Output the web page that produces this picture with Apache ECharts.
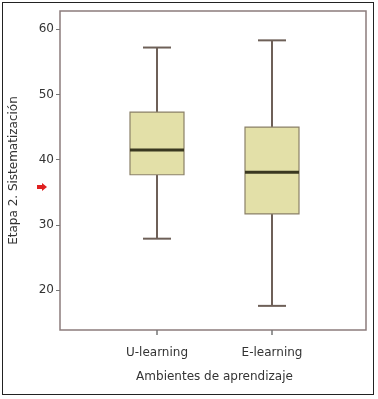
<!DOCTYPE html>
<html>
<head>
<meta charset="utf-8">
<script src="https://cdn.jsdelivr.net/npm/echarts@6/dist/echarts.min.js"></script>
<style>
html,body{margin:0;padding:0;background:#fff;}
#wrap{position:absolute;left:2px;top:2px;width:372px;height:393px;border:1.5px solid #222;box-sizing:border-box;}
#c{position:absolute;left:0;top:0;width:378px;height:399px;}
</style>
</head>
<body>
<div id="wrap"></div>
<div id="c"></div>
<script>
// Data
const categories = ['U-learning', 'E-learning'];
// [lower whisker, Q1, median, Q3, upper whisker]
const uLearning = [27.9, 37.7, 41.5, 47.3, 57.2];
const eLearning = [17.6, 31.7, 38.1, 45.0, 58.3];
const yTicks = [20, 30, 40, 50, 60];
const yName = 'Etapa 2. Sistematización';
const xName = 'Ambientes de aprendizaje';

const chart = echarts.init(document.getElementById('c'), null, {renderer: 'canvas'});
const font = 'DejaVu Sans';
const yMin = 13.9, yMax = 62.8;
const frameColor = '#8c7c7c';
const boxHalf = 27, capHalf = 14;
const whiskerColor = '#6e6058';

const boxData = [uLearning, eLearning].map((d, i) => [i].concat(d));

chart.setOption({
  animation: false,
  backgroundColor: 'transparent',
  grid: [
    {left: 60, right: 12, top: 11, bottom: 69, show: true, borderColor: frameColor, borderWidth: 1.5, backgroundColor: '#fff'},
    {left: 99.5, right: 48.5, top: 11, bottom: 69}
  ],
  xAxis: [
    {gridIndex: 0, type: 'value', min: 0, max: 1, show: false},
    {gridIndex: 1, type: 'category', data: categories,
     name: xName, nameLocation: 'middle', nameGap: 41,
     nameTextStyle: {fontFamily: font, fontSize: 12, color: '#333'},
     axisLine: {show: false},
     axisTick: {show: true, alignWithLabel: true, length: 5, lineStyle: {color: '#777', width: 1.5}},
     axisLabel: {fontFamily: font, fontSize: 12, color: '#333', margin: 17}
    }
  ],
  yAxis: [
    {gridIndex: 0, type: 'value', min: yMin, max: yMax,
     name: yName, nameLocation: 'middle', nameGap: 40,
     nameTextStyle: {fontFamily: font, fontSize: 12, color: '#333'},
     splitLine: {show: false},
     axisLine: {show: false},
     axisTick: {show: true, length: 4, customValues: yTicks, lineStyle: {color: '#777'}},
     axisLabel: {fontFamily: font, fontSize: 12, color: '#333', margin: 6, customValues: yTicks}
    },
    {gridIndex: 1, type: 'value', min: yMin, max: yMax, show: false}
  ],
  series: [{
    type: 'custom',
    xAxisIndex: 1, yAxisIndex: 1,
    data: boxData,
    encode: {x: 0, y: [1, 2, 3, 4, 5]},
    renderItem: function(params, api) {
      const x = api.value(0);
      const c = api.coord([x, api.value(1)]);
      const lo = c[1];
      const q1 = api.coord([x, api.value(2)])[1];
      const med = api.coord([x, api.value(3)])[1];
      const q3 = api.coord([x, api.value(4)])[1];
      const hi = api.coord([x, api.value(5)])[1];
      const cx = c[0];
      const ws = {stroke: whiskerColor, lineWidth: 2};
      return {type: 'group', children: [
        {type: 'line', shape: {x1: cx, y1: hi, x2: cx, y2: q3}, style: ws},
        {type: 'line', shape: {x1: cx, y1: q1, x2: cx, y2: lo}, style: ws},
        {type: 'line', shape: {x1: cx - capHalf, y1: hi, x2: cx + capHalf, y2: hi}, style: ws},
        {type: 'line', shape: {x1: cx - capHalf, y1: lo, x2: cx + capHalf, y2: lo}, style: ws},
        {type: 'rect', shape: {x: cx - boxHalf, y: q3, width: boxHalf * 2, height: q1 - q3},
         style: {fill: '#e3e0a8', stroke: '#8a8068', lineWidth: 1.2}},
        {type: 'line', shape: {x1: cx - boxHalf, y1: med, x2: cx + boxHalf, y2: med},
         style: {stroke: '#3a3820', lineWidth: 3}}
      ]};
    }
  }],
  graphic: [{
    type: 'polygon', left: 37, top: 183,
    shape: {points: [[0, 2], [5, 2], [5, 0], [10, 4], [5, 8], [5, 6], [0, 6]]},
    style: {fill: '#e02020'}
  }]
});
</script>
</body>
</html>
